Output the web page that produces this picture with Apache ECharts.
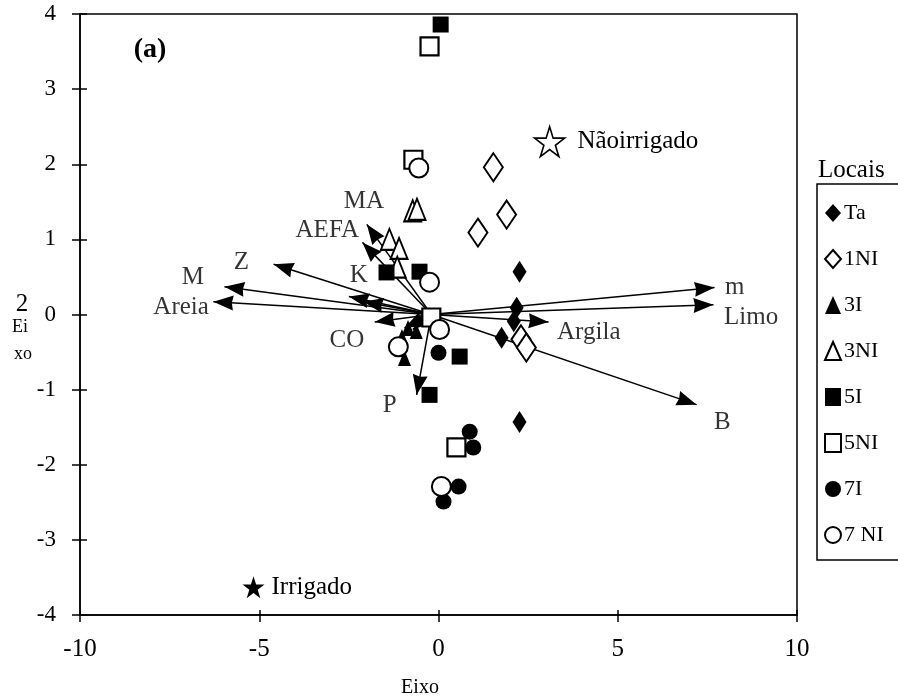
<!DOCTYPE html>
<html>
<head>
<meta charset="utf-8">
<script src="https://cdn.jsdelivr.net/npm/echarts@6/dist/echarts.min.js"></script>
<style>
html,body{margin:0;padding:0;background:#fff;}
#c{width:898px;height:698px;}
</style>
</head>
<body>
<div id="c"></div>
<script>
// ---- data ----
const xTicks = [-10, -5, 0, 5, 10];
const yTicks = [-4, -3, -2, -1, 0, 1, 2, 3, 4];

const ta   = [[2.26,0.57],[2.18,0.09],[2.1,-0.09],[1.76,-0.31],[2.26,-1.43]];
const ni1  = [[1.53,1.96],[1.9,1.33],[1.1,1.09],[2.3,-0.33],[2.45,-0.44]];
const i3   = [[-0.62,-0.22],[-0.85,-0.18],[-0.95,-0.58],[-1.02,-0.3]];
const ni3  = [[-0.72,1.38],[-0.6,1.4],[-1.37,1.0],[-1.1,0.88],[-1.15,0.63]];
const i5   = [[0.06,3.86],[-1.45,0.56],[-0.53,0.57],[0.59,-0.56],[-0.25,-1.07]];
const ni5  = [[-0.25,3.57],[-0.7,2.06],[-0.2,-0.04],[0.5,-1.77]];
const i7   = [[0.0,-0.51],[0.87,-1.56],[0.97,-1.77],[0.56,-2.29],[0.14,-2.49]];
const ni7  = [[-0.55,1.95],[-0.25,0.43],[0.03,-0.2],[-1.12,-0.43],[0.08,-2.29]];

const starNames = ['Nãoirrigado', 'Irrigado'];
const starX = [3.1, -5.16];
const starY = [2.3, -3.63];

const vecOrigin = [-0.2, 0.0];
const vecNames = ['m','Limo','Argila','B','Areia','M','Z','K','','MA','AEFA','CO','P','',''];
const vecX = [7.7, 7.67, 3.07, 7.2, -6.28, -5.97, -4.6, -2.5, -2.1, -2.0, -2.12, -1.78, -0.61, -0.95, -0.72];
const vecY = [0.36, 0.13, -0.1, -1.2, 0.17, 0.37, 0.67, 0.24, 0.17, 1.2, 0.96, -0.1, -1.07, -0.18, -0.2];

const legendNames = ['Ta','1NI','3I','3NI','5I','5NI','7I','7 NI'];

// ---- styling ----
const FONT = 'Liberation Serif';
const starPath = 'path://M50,0 L61.2,34.5 L97.6,34.5 L68.2,55.9 L79.4,90.5 L50,69.1 L20.6,90.5 L31.8,55.9 L2.4,34.5 L38.8,34.5 Z';
// arrow head with its tip at the centre of a 40x40 box
const headPath = 'path://M-20,-20 M20,20 M0,0 L7.5,20 L0,18.5 L-7.5,20 Z';
const labelLayout = {
  'm':     {position:'right', distance:10, offset:[0,0]},
  'Limo':  {position:'right', distance:10, offset:[0,13]},
  'Argila':{position:'right', distance:8, offset:[0,10]},
  'B':     {position:'right', distance:17, offset:[0,18]},
  'Areia': {position:'left', distance:4, offset:[0,6]},
  'M':     {position:'left', distance:20, offset:[0,-9]},
  'Z':     {position:'left', distance:24, offset:[0,-2]},
  'K':     {position:'inside', offset:[10,-21]},
  'MA':    {position:'inside', offset:[-3,-23]},
  'AEFA':  {position:'left', distance:3, offset:[0,-12]},
  'CO':    {position:'left', distance:10, offset:[0,18]},
  'P':     {position:'inside', offset:[-27,11]}
};

const filled = {color:'#000', opacity:1};
const open = {color:'#fff', borderColor:'#000', borderWidth:2, opacity:1};

function sc(name, data, symbol, size, style) {
  return {
    type:'scatter', name: name, data: data, symbol: symbol, symbolSize: size,
    itemStyle: style, z: 5, silent: true
  };
}

const vecLines = vecX.map((x, i) => ({coords: [vecOrigin, [x, vecY[i]]]}));
const vecLabelData = vecX.map((x, i) => {
  const n = vecNames[i];
  const lay = labelLayout[n] || {};
  return {
    value: [x, vecY[i]], name: n,
    label: Object.assign({show: n !== '', formatter: n}, lay)
  };
});

const chart = echarts.init(document.getElementById('c'), null, {renderer:'canvas'});
const lineStyle = {color:'#000', width:1.5};
chart.setOption({
  animation:false,
  backgroundColor:'#fff',
  textStyle:{fontFamily:FONT, color:'#000'},
  grid:{left:80, top:14, right:101, bottom:83, show:true, borderColor:'#000', borderWidth:1.5, containLabel:false},
  xAxis:[
    {
      type:'value', position:'bottom', min:xTicks[0], max:xTicks[xTicks.length-1], interval:5,
      splitLine:{show:false},
      axisLine:{show:true, onZero:false, lineStyle:lineStyle},
      axisTick:{show:true, inside:false, length:7, lineStyle:lineStyle},
      axisLabel:{color:'#000', fontFamily:FONT, fontSize:25, margin:22}
    },
    {
      type:'value', position:'bottom', min:xTicks[0], max:xTicks[xTicks.length-1], interval:5,
      splitLine:{show:false},
      axisLine:{show:false, onZero:false},
      axisTick:{show:true, inside:true, length:5, lineStyle:lineStyle},
      axisLabel:{show:false}
    }
  ],
  yAxis:[
    {
      type:'value', position:'left', min:yTicks[0], max:yTicks[yTicks.length-1], interval:1,
      splitLine:{show:false},
      axisLine:{show:true, onZero:false, lineStyle:lineStyle},
      axisTick:{show:true, inside:false, length:8, lineStyle:lineStyle},
      axisLabel:{color:'#000', fontFamily:FONT, fontSize:23, margin:24}
    },
    {
      type:'value', position:'left', min:yTicks[0], max:yTicks[yTicks.length-1], interval:1,
      splitLine:{show:false},
      axisLine:{show:false, onZero:false},
      axisTick:{show:true, inside:true, length:7, lineStyle:lineStyle},
      axisLabel:{show:false}
    }
  ],
  legend:{
    orient:'vertical', left:817, top:184,
    padding:[18, 24, 14, 7],
    itemWidth:16, itemHeight:18, itemGap:24,
    borderColor:'#000', borderWidth:1.5, borderRadius:0,
    textStyle:{fontFamily:FONT, fontSize:22, color:'#000', lineHeight:20, padding:[0,0,0,-2]},
    data: legendNames
  },
  series:[
    {
      type:'lines', coordinateSystem:'cartesian2d', silent:true, z:3,
      symbol:['none', headPath], symbolSize:[0, 40],
      lineStyle:{color:'#000', width:1.5, opacity:1},
      data: vecLines
    },
    {
      type:'scatter', name:'vecLabels', silent:true, z:4,
      symbolSize:1, itemStyle:{color:'transparent'},
      label:{fontFamily:FONT, fontSize:25, color:'#000'},
      data: vecLabelData
    },
    {
      type:'scatter', name:'stars', silent:true, z:6,
      symbol: starPath,
      data: starX.map((x, i) => ({
        value:[x, starY[i]], name: starNames[i],
        symbolSize: i === 0 ? 30 : 22,
        itemStyle: i === 0 ? {color:'#fff', borderColor:'#000', borderWidth:1.6, opacity:1} : {color:'#000', opacity:1},
        label:{show:true, position:'right', distance: i === 0 ? 12 : 7, formatter: starNames[i],
               fontFamily:FONT, fontSize:25, color:'#000'}
      }))
    },
    sc('Ta', ta, 'diamond', [14,22], filled),
    sc('1NI', ni1, 'diamond', [19,28], open),
    sc('3I', i3, 'triangle', [13,16], filled),
    sc('3NI', ni3, 'triangle', [17,21], open),
    sc('5I', i5, 'rect', 16, filled),
    sc('5NI', ni5, 'rect', 18, Object.assign({}, open, {borderWidth:2.2})),
    sc('7I', i7, 'circle', 16, filled),
    sc('7 NI', ni7, 'circle', 19, open)
  ],
  graphic:[
    {type:'text', x:150, y:50, style:{text:'(a)', font:'bold 28px "Liberation Serif"', fill:'#000', align:'center', verticalAlign:'middle'}},
    {type:'text', x:818, y:170, style:{text:'Locais', font:'25px "Liberation Serif"', fill:'#000', align:'left', verticalAlign:'middle'}},
    {type:'text', x:420, y:688, style:{text:'Eixo', font:'20px "Liberation Serif"', fill:'#000', align:'center', verticalAlign:'middle'}},
    {type:'text', x:22, y:304, style:{text:'2', font:'25px "Liberation Serif"', fill:'#000', align:'center', verticalAlign:'middle'}},
    {type:'text', x:20, y:327, style:{text:'Ei', font:'18px "Liberation Serif"', fill:'#000', align:'center', verticalAlign:'middle'}},
    {type:'text', x:23, y:354, style:{text:'xo', font:'18px "Liberation Serif"', fill:'#000', align:'center', verticalAlign:'middle'}}
  ]
});
</script>
</body>
</html>
